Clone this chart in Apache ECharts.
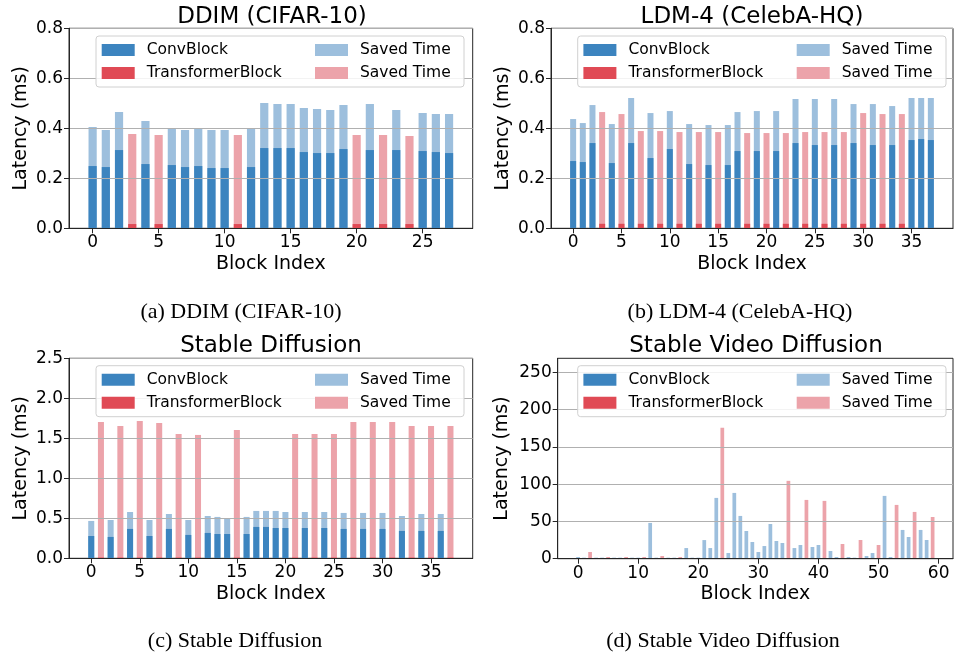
<!DOCTYPE html>
<html>
<head>
<meta charset="utf-8">
<script src="https://cdn.jsdelivr.net/npm/echarts@6/dist/echarts.min.js"></script>
<style>
  html, body { margin: 0; padding: 0; background: #fff; }
  #chart { width: 955px; height: 657px; }
</style>
</head>
<body>
<div id="chart"></div>
<script>
// 块类型: C = ConvBlock, T = TransformerBlock
// base = 块本身耗时, saved = 节省的时间 (叠在上面)

// (a) DDIM (CIFAR-10)
const ddimKind = 'CCCTCTCCCCCTCCCCCCCCTCTCTCCC'.split('');
const ddimBase = [0.249, 0.245, 0.313, 0.017, 0.257, 0.017, 0.253, 0.245, 0.249, 0.241, 0.241, 0.017, 0.245, 0.321,
  0.321, 0.321, 0.305, 0.301, 0.301, 0.317, 0.017, 0.313, 0.017, 0.313, 0.017, 0.309, 0.305, 0.301];
const ddimSaved = [0.156, 0.148, 0.152, 0.360, 0.172, 0.356, 0.147, 0.148, 0.148, 0.152, 0.152, 0.356, 0.155, 0.180,
  0.176, 0.176, 0.176, 0.176, 0.172, 0.176, 0.356, 0.184, 0.356, 0.160, 0.352, 0.152, 0.152, 0.156];

// (b) LDM-4 (CelebA-HQ)
const ldmKind = 'CCCTCTCTCTCTCTCTCCTCTCTCTCTCTCTCTCTCCC'.split('');
const ldmBase = [0.269, 0.265, 0.341, 0.018, 0.261, 0.018, 0.341, 0.018, 0.281, 0.018, 0.317, 0.018, 0.257, 0.018,
  0.253, 0.018, 0.253, 0.309, 0.018, 0.309, 0.018, 0.309, 0.018, 0.341, 0.018, 0.333, 0.018, 0.333, 0.018, 0.341,
  0.018, 0.333, 0.018, 0.333, 0.018, 0.353, 0.357, 0.353];
const ldmSaved = [0.168, 0.156, 0.152, 0.447, 0.156, 0.439, 0.180, 0.371, 0.180, 0.371, 0.152, 0.367, 0.160, 0.367,
  0.160, 0.367, 0.160, 0.156, 0.363, 0.160, 0.363, 0.160, 0.363, 0.176, 0.367, 0.184, 0.367, 0.184, 0.367, 0.156,
  0.443, 0.164, 0.439, 0.156, 0.439, 0.168, 0.164, 0.168];

// (c) Stable Diffusion
const sdKind = 'CTCTCTCTCTCTCCCTCCCCCTCTCTCTCTCTCTCTCT'.split('');
const sdBase = [0.279, 0.01, 0.267, 0.01, 0.367, 0.01, 0.279, 0.01, 0.367, 0.01, 0.292, 0.01, 0.317, 0.304, 0.304,
  0.01, 0.304, 0.392, 0.392, 0.379, 0.379, 0.01, 0.379, 0.01, 0.379, 0.01, 0.367, 0.01, 0.367, 0.01, 0.367, 0.01,
  0.342, 0.01, 0.342, 0.01, 0.342, 0.01];
const sdSaved = [0.188, 1.694, 0.212, 1.644, 0.212, 1.707, 0.200, 1.682, 0.187, 1.544, 0.187, 1.532, 0.212, 0.213,
  0.200, 1.594, 0.213, 0.200, 0.200, 0.213, 0.200, 1.544, 0.200, 1.544, 0.200, 1.544, 0.200, 1.694, 0.200, 1.694,
  0.200, 1.694, 0.187, 1.644, 0.212, 1.644, 0.212, 1.644];

// (d) Stable Video Diffusion
const svdKind = 'CCTCCTCCTCCTCCTCCTCCCCCCTCCCCCCCCCCTCCTCCTCCTCCTCCTCCTCCTCCT'.split('');
const svdBase = [1, 1, 1, 1, 1, 1, 1, 1, 1, 1, 1, 1, 1, 1, 1, 1, 1, 1, 1, 1, 1, 1, 1, 1, 1, 1, 1, 1, 1, 1,
  1, 1, 1, 1, 1, 1, 1, 1, 1, 1, 1, 1, 1, 1, 1, 1, 1, 1, 1, 1, 1, 1, 1, 1, 1, 1, 1, 1, 1, 1];
const svdSaved = [1.2, 0.3, 8.0, 0.3, 0.3, 1.2, 0.3, 0.3, 1.2, 0.3, 0.3, 1.2, 47.0, 0.3, 2.6, 0.3, 0.3, 1.2, 13.3, 0.3,
  0.3, 24.0, 13.3, 80.6, 174.8, 6.6, 87.3, 56.4, 36.2, 21.4, 8.0, 16.0, 45.6, 22.8, 20.1, 103.5, 13.3, 17.4, 77.9, 14.7,
  17.4, 76.6, 9.3, 1.2, 18.7, 1.2, 0.3, 24.1, 2.6, 6.6, 17.4, 83.3, 1.2, 71.2, 37.6, 28.1, 61.8, 37.6, 24.1, 55.0];

// 刻度
const ddimXTicks = [0, 5, 10, 15, 20, 25];
const ldmXTicks = [0, 5, 10, 15, 20, 25, 30, 35];
const sdXTicks = [0, 5, 10, 15, 20, 25, 30, 35];
const svdXTicks = [0, 10, 20, 30, 40, 50, 60];
const ddimYTicks = [0, 0.2, 0.4, 0.6, 0.8];
const ldmYTicks = [0, 0.2, 0.4, 0.6, 0.8];
const sdYTicks = [0, 0.5, 1.0, 1.5, 2.0, 2.5];
const svdYTicks = [0, 50, 100, 150, 200, 250];

const COLORS = {
  conv: '#3c84bf',
  trans: '#e04a55',
  savedConv: '#9dbfdd',
  savedTrans: '#eca3aa'
};
const FONT = 'DejaVu Sans';
const AXIS_COLOR = '#262626';

const panels = [
  { kind: ddimKind, base: ddimBase, saved: ddimSaved, xTicks: ddimXTicks, yTicks: ddimYTicks,
    title: 'DDIM (CIFAR-10)', caption: '(a) DDIM (CIFAR-10)',
    left: 69, top: 28.3, width: 403.7, height: 200, xMin: -1.79, xMax: 28.79, yMax: 0.8, yStep: 0.2, digits: 1,
    titleX: 272, titleY: 6, capX: 241, capY: 301, boxX: 96, boxY: 36, boxW: 368, col2X: 315 },
  { kind: ldmKind, base: ldmBase, saved: ldmSaved, xTicks: ldmXTicks, yTicks: ldmYTicks,
    title: 'LDM-4 (CelebA-HQ)', caption: '(b) LDM-4 (CelebA-HQ)',
    left: 551, top: 28.3, width: 402, height: 200, xMin: -2.29, xMax: 39.29, yMax: 0.8, yStep: 0.2, digits: 1,
    titleX: 752, titleY: 6, capX: 740, capY: 301, boxX: 577.7, boxY: 36, boxW: 368.3, col2X: 796.7 },
  { kind: sdKind, base: sdBase, saved: sdSaved, xTicks: sdXTicks, yTicks: sdYTicks,
    title: 'Stable Diffusion', caption: '(c) Stable Diffusion',
    left: 69, top: 358.3, width: 403.7, height: 200, xMin: -2.29, xMax: 39.29, yMax: 2.5, yStep: 0.5, digits: 1,
    titleX: 271, titleY: 335, capX: 235, capY: 630, boxX: 96, boxY: 365.7, boxW: 368, col2X: 315 },
  { kind: svdKind, base: svdBase, saved: svdSaved, xTicks: svdXTicks, yTicks: svdYTicks,
    title: 'Stable Video Diffusion', caption: '(d) Stable Video Diffusion',
    left: 557.7, top: 358.3, width: 395.3, height: 200.4, xMin: -3.39, xMax: 62.39, yMax: 269, yStep: 50, digits: 0,
    titleX: 756, titleY: 335, capX: 723, capY: 630, boxX: 577.7, boxY: 365.7, boxW: 368.3, col2X: 796.7 }
];

const grid = [], xAxis = [], yAxis = [], series = [], title = [], legend = [], graphic = [];

panels.forEach((p, i) => {
  grid.push({
    left: p.left, top: p.top, width: p.width, height: p.height,
    show: true, borderColor: AXIS_COLOR, borderWidth: 1, backgroundColor: 'transparent'
  });

  xAxis.push({
    gridIndex: i, type: 'value', min: p.xMin, max: p.xMax, z: 5,
    axisLine: { show: true, onZero: false, lineStyle: { color: AXIS_COLOR } },
    axisTick: { show: true, length: 5, customValues: p.xTicks, lineStyle: { color: AXIS_COLOR } },
    axisLabel: { customValues: p.xTicks, fontSize: 17, color: '#000', margin: 6, fontFamily: FONT },
    splitLine: { show: false },
    name: 'Block Index', nameLocation: 'middle', nameGap: 26,
    nameTextStyle: { fontSize: 19, color: '#000', fontFamily: FONT }
  });

  yAxis.push({
    gridIndex: i, type: 'value', min: 0, max: p.yMax, interval: p.yStep, z: 5,
    axisLine: { show: true, onZero: false, lineStyle: { color: AXIS_COLOR } },
    axisTick: { show: true, length: 5, customValues: p.yTicks, lineStyle: { color: AXIS_COLOR } },
    axisLabel: {
      customValues: p.yTicks, fontSize: 17, color: '#000', margin: 6, fontFamily: FONT,
      formatter: v => Number(v).toFixed(p.digits)
    },
    splitLine: { show: true, lineStyle: { color: '#b0b0b0', width: 1 } },
    name: 'Latency (ms)', nameLocation: 'middle', nameGap: i === 3 ? 46 : 38,
    nameTextStyle: { fontSize: 19, color: '#000', fontFamily: FONT }
  });

  // 柱宽 0.62 个单位
  const barW = p.width / (p.xMax - p.xMin) * 0.62;
  const pick = (k, fn) => p.kind.map((kk, j) => [j, kk === k ? fn(j) : null]);
  const common = { type: 'bar', xAxisIndex: i, yAxisIndex: i, barWidth: barW, barGap: '-100%', animation: false };

  series.push(Object.assign({}, common, {
    name: 'Saved Time', z: 2, itemStyle: { color: COLORS.savedConv },
    data: pick('C', j => p.base[j] + p.saved[j])
  }));
  series.push(Object.assign({}, common, {
    name: 'Saved Time ', z: 2, itemStyle: { color: COLORS.savedTrans },
    data: pick('T', j => p.base[j] + p.saved[j])
  }));
  series.push(Object.assign({}, common, {
    name: 'ConvBlock', z: 3, itemStyle: { color: COLORS.conv },
    data: pick('C', j => p.base[j])
  }));
  series.push(Object.assign({}, common, {
    name: 'TransformerBlock', z: 3, itemStyle: { color: COLORS.trans },
    data: pick('T', j => p.base[j])
  }));

  title.push({
    text: p.title, left: p.titleX, top: p.titleY, textAlign: 'center', padding: 0,
    textStyle: { fontSize: 23, fontWeight: 'normal', fontFamily: FONT, color: '#000' }
  });
  title.push({
    text: p.caption, left: p.capX, top: p.capY, textAlign: 'center', padding: 0,
    textStyle: { fontSize: 22, fontWeight: 'normal', fontFamily: 'Liberation Serif', color: '#000' }
  });

  // 图例框
  graphic.push({
    type: 'rect', z: 8,
    shape: { x: p.boxX, y: p.boxY, width: p.boxW, height: 51, r: 3 },
    style: { fill: 'rgba(255,255,255,0.85)', stroke: '#d0d0d0', lineWidth: 1 }
  });
  const legendBase = {
    orient: 'vertical', top: p.boxY + 6, itemWidth: 33, itemHeight: 12, itemGap: 7,
    icon: 'rect', selectedMode: false, padding: 0, z: 10,
    textStyle: { fontSize: 15.5, color: '#000', fontFamily: FONT, padding: [0, 0, 0, 7] }
  };
  legend.push(Object.assign({}, legendBase, { left: p.boxX + 5.7, data: ['ConvBlock', 'TransformerBlock'] }));
  legend.push(Object.assign({}, legendBase, { left: p.col2X, data: ['Saved Time', 'Saved Time '] }));
});

const chart = echarts.init(document.getElementById('chart'));
chart.setOption({
  animation: false,
  backgroundColor: '#fff',
  grid, xAxis, yAxis, series, title, legend, graphic
});
window.addEventListener('resize', () => chart.resize());
</script>
</body>
</html>
